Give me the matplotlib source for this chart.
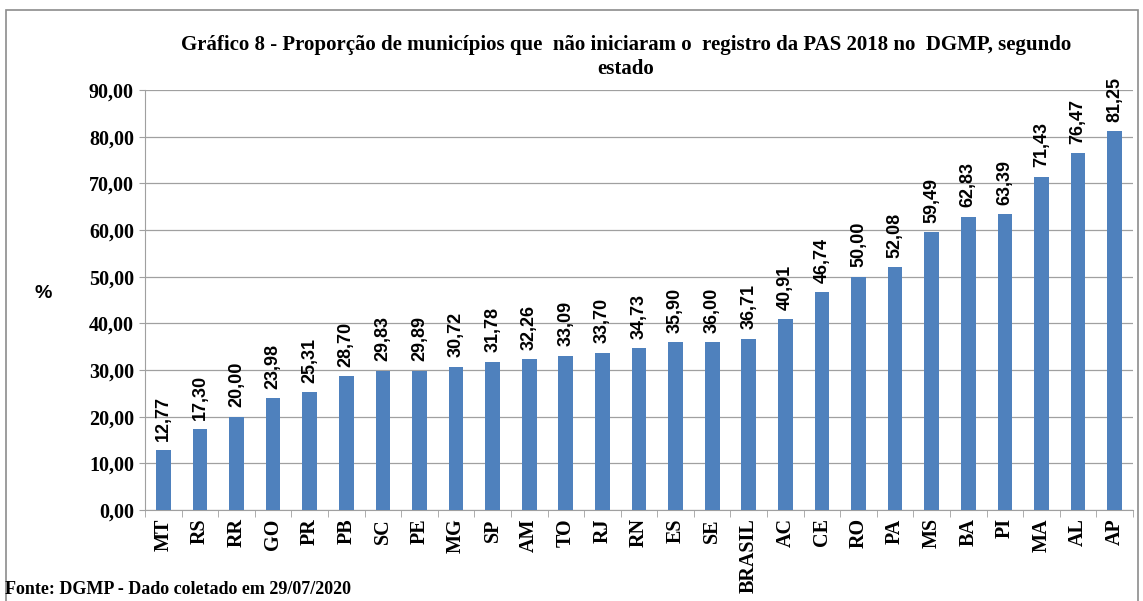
import matplotlib
matplotlib.use("Agg")
import matplotlib.pyplot as plt
from matplotlib.patches import Rectangle

# data
estados = ["MT", "RS", "RR", "GO", "PR", "PB", "SC", "PE", "MG", "SP", "AM", "TO",
           "RJ", "RN", "ES", "SE", "BRASIL", "AC", "CE", "RO", "PA", "MS", "BA",
           "PI", "MA", "AL", "AP"]
proporcao = [12.77, 17.30, 20.00, 23.98, 25.31, 28.70, 29.83, 29.89, 30.72, 31.78,
             32.26, 33.09, 33.70, 34.73, 35.90, 36.00, 36.71, 40.91, 46.74, 50.00,
             52.08, 59.49, 62.83, 63.39, 71.43, 76.47, 81.25]
yticks = [0, 10, 20, 30, 40, 50, 60, 70, 80, 90]

serif = "Liberation Serif"
cor = "#4F81BD"

fig = plt.figure(figsize=(11.43, 6.01), dpi=100)
ax = fig.add_axes([145 / 1143, 1 - 510 / 601, 988 / 1143, 420 / 601])

xs = range(len(estados))
ax.bar(xs, proporcao, width=0.4, color=cor, zorder=3)
for x, v in zip(xs, proporcao):
    ax.text(x, v + 2.0, f"{v:.2f}".replace(".", ","), rotation=90, ha="center",
            va="bottom", fontsize=13, fontweight="bold", family="Liberation Sans")

ax.set_xlim(-0.5, len(estados) - 0.5)
ax.set_ylim(0, 90)
ax.set_yticks(yticks)
ax.set_yticklabels([f"{t:.2f}".replace(".", ",") for t in yticks],
                   fontsize=14.5, fontweight="bold", family=serif)
ax.set_xticks(list(xs))
ax.set_xticklabels(estados, rotation=90, fontsize=14.5, fontweight="bold", family=serif)
ax.set_xticks([i - 0.5 for i in range(len(estados) + 1)], minor=True)
ax.tick_params(axis="x", which="major", length=0, pad=6)
ax.tick_params(axis="x", which="minor", length=5, color="#A0A0A0")
ax.tick_params(axis="y", length=4, color="#A0A0A0", pad=4)
ax.grid(axis="y", color="#A0A0A0", linewidth=0.9, zorder=0)
for s in ["top", "right"]:
    ax.spines[s].set_visible(False)
for s in ["left", "bottom"]:
    ax.spines[s].set_color("#A0A0A0")

fig.text(626 / 1143, 1 - 45 / 601,
         "Gráfico 8 - Proporção de municípios que  não iniciaram o  registro da PAS 2018 no  DGMP, segundo",
         ha="center", va="center", fontsize=15, fontweight="bold", family=serif)
fig.text(626 / 1143, 1 - 69 / 601, "estado", ha="center", va="center",
         fontsize=15, fontweight="bold", family=serif)
fig.text(43 / 1143, 1 - 294 / 601, "%", ha="center", va="center", fontsize=14,
         fontweight="bold", family="Liberation Sans")
fig.text(5 / 1143, 1 - 590 / 601, "Fonte: DGMP - Dado coletado em 29/07/2020",
         ha="left", va="center", fontsize=13, fontweight="bold", family=serif)

fig.patches.append(Rectangle((6 / 1143, -0.05), 1132 / 1143, 1.05 - 10.5 / 601,
                             transform=fig.transFigure, fill=False,
                             edgecolor="#8C8C8C", linewidth=1.2))

fig.savefig("out.png", dpi=100)
